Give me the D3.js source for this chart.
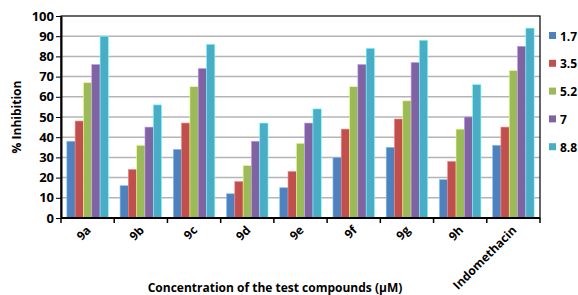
<!DOCTYPE html>
<html lang="en">
<head>
    <meta charset="UTF-8">
    <title>% Inhibition bar chart</title>
    <script src="https://d3js.org/d3.v7.min.js"></script>
    <style>
        body { margin: 0; background: #fff; }
        text { font-family: "Open Sans", "Liberation Sans", sans-serif; font-weight: bold; fill: #000; }
    </style>
</head>
<body>
    <svg id="chart"></svg>
    <script>
        // Data
        const compounds = ["9a", "9b", "9c", "9d", "9e", "9f", "9g", "9h", "Indomethacin"];
        const concentrations = ["1.7", "3.5", "5.2", "7", "8.8"];
        const c17 = [38, 16, 34, 12, 15, 30, 35, 19, 36];
        const c35 = [48, 24, 47, 18, 23, 44, 49, 28, 45];
        const c52 = [67, 36, 65, 26, 37, 65, 58, 44, 73];
        const c70 = [76, 45, 74, 38, 47, 76, 77, 50, 85];
        const c88 = [90, 56, 86, 47, 54, 84, 88, 66, 94];
        const yTicks = [0, 10, 20, 30, 40, 50, 60, 70, 80, 90, 100];

        const series = [c17, c35, c52, c70, c88];
        const colors = ["#4F81BD", "#C0504D", "#9BBB59", "#8064A2", "#4BACC6"];

        const width = 578, height = 295;
        const margin = {top: 16, right: 38, bottom: 77, left: 61};
        const innerW = width - margin.left - margin.right;
        const innerH = height - margin.top - margin.bottom;

        const svg = d3.select("#chart").attr("width", width).attr("height", height);
        const g = svg.append("g").attr("transform", `translate(${margin.left},${margin.top})`);

        const x0 = d3.scaleBand().domain(compounds).range([0, innerW]).paddingInner(0.22).paddingOuter(0.11);
        const x1 = d3.scaleBand().domain(concentrations).range([0, x0.bandwidth()]);
        const y = d3.scaleLinear().domain([0, 100]).range([innerH, 0]);

        // gridlines
        g.selectAll(".grid").data(yTicks.slice(1, -1)).enter().append("line")
            .attr("x1", 0).attr("x2", innerW)
            .attr("y1", d => y(d)).attr("y2", d => y(d))
            .attr("stroke", "#b4b4b4").attr("stroke-width", 1.5);

        // bars
        const groups = g.selectAll(".grp").data(compounds).enter().append("g")
            .attr("transform", d => `translate(${x0(d)},0)`);
        groups.selectAll("rect")
            .data((d, i) => concentrations.map((c, k) => ({c: c, v: series[k][i], k: k})))
            .enter().append("rect")
            .attr("x", d => x1(d.c))
            .attr("y", d => y(d.v))
            .attr("width", x1.bandwidth())
            .attr("height", d => innerH - y(d.v))
            .attr("fill", d => colors[d.k])
            .attr("stroke", d => d3.color(colors[d.k]).brighter(1.2))
            .attr("stroke-width", 0.6);

        // plot frame
        g.append("rect").attr("width", innerW).attr("height", innerH)
            .attr("fill", "none").attr("stroke", "#000").attr("stroke-width", 1.2);

        // y axis
        const yAxis = g.append("g").call(d3.axisLeft(y).tickValues(yTicks).tickSize(5).tickSizeOuter(0));
        yAxis.select(".domain").attr("stroke-width", 2);
        yAxis.selectAll("text").style("font-size", "13px").attr("x", -7);

        // x axis with ticks on category boundaries
        const xa = g.append("g").attr("transform", `translate(0,${innerH})`);
        xa.append("line").attr("x1", 0).attr("x2", innerW).attr("stroke", "#000").attr("stroke-width", 2);
        const step = innerW / compounds.length;
        xa.selectAll(".tk").data(d3.range(compounds.length + 1)).enter().append("line")
            .attr("x1", d => d * step).attr("x2", d => d * step)
            .attr("y1", 0).attr("y2", 5).attr("stroke", "#000").attr("stroke-width", 1.5);
        xa.selectAll(".lbl").data(compounds).enter().append("text")
            .attr("transform", d => `translate(${x0(d) + x0.bandwidth() / 2 + 4},${13}) rotate(-45)`)
            .attr("text-anchor", "end")
            .style("font-size", "12px")
            .text(d => d);

        // axis titles
        svg.append("text")
            .attr("transform", `translate(21,${margin.top + innerH / 2}) rotate(-90)`)
            .attr("text-anchor", "middle").style("font-size", "12px")
            .text("% Inhibition");
        svg.append("text")
            .attr("x", 275).attr("y", 292)
            .attr("text-anchor", "middle").style("font-size", "12px")
            .text("Concentration of the test compounds (µM)");

        // legend
        const lg = svg.append("g").attr("transform", "translate(549,36)");
        const items = lg.selectAll("g").data(concentrations).enter().append("g")
            .attr("transform", (d, i) => `translate(0,${i * 27.8})`);
        items.append("rect").attr("x", 0).attr("y", -4).attr("width", 7).attr("height", 7)
            .attr("fill", (d, i) => colors[i]);
        items.append("text").attr("x", 11).attr("y", 4.5).style("font-size", "12px").text(d => d);
    </script>
</body>
</html>
